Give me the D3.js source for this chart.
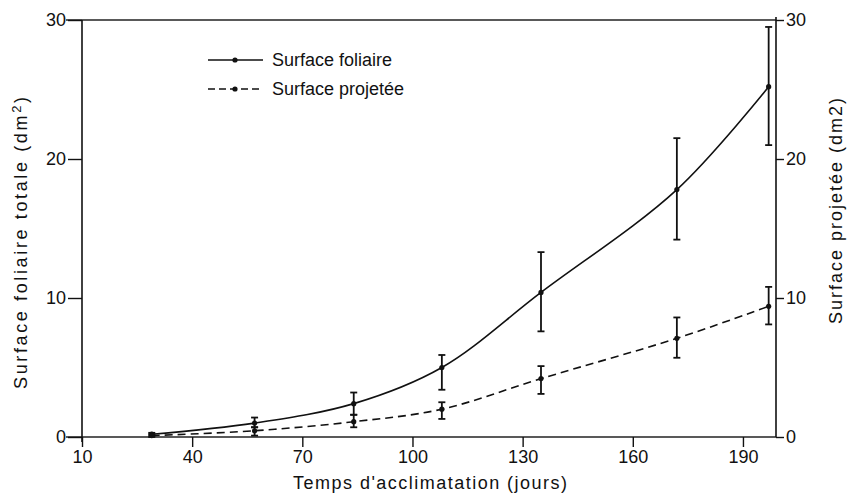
<!DOCTYPE html>
<html>
<head>
<meta charset="utf-8">
<script src="https://cdn.jsdelivr.net/npm/d3@7"></script>
<style>
  body { margin: 0; background: #fff; }
  svg { display: block; font-family: "Liberation Sans", Arial, sans-serif; }
  .axis text { font-size: 18px; fill: #111; }
  .axis line { stroke: #111; stroke-width: 1.4; }
</style>
</head>
<body>
<svg width="847" height="496"></svg>
<script>
// jours d'acclimatation
const days = [29, 57, 84, 108, 135, 172, 197];

// surface foliaire totale (dm2), moyenne et barre d'erreur
const foliaire   = [0.2, 1.0, 2.4, 5.0, 10.4, 17.8, 25.2];
const foliaireLo = [0.1, 0.7, 1.6, 3.4, 7.6, 14.2, 21.0];
const foliaireHi = [0.3, 1.4, 3.2, 5.9, 13.3, 21.5, 29.5];

// surface projetee (dm2)
const projetee   = [0.1, 0.45, 1.1, 2.0, 4.2, 7.1, 9.4];
const projeteeLo = [0.0, 0.1, 0.7, 1.3, 3.1, 5.7, 8.1];
const projeteeHi = [0.2, 0.7, 1.6, 2.5, 5.1, 8.6, 10.8];

const xTicks = [10, 40, 70, 100, 130, 160, 190];
const yTicks = [0, 10, 20, 30];

const svg = d3.select('svg');

const x = d3.scaleLinear().domain([10, 199]).range([82, 776]);
const y = d3.scaleLinear().domain([0, 30]).range([437, 20]);

// cadre : ligne du haut et ligne de base
svg.append('line')
  .attr('x1', 66).attr('x2', x(199))
  .attr('y1', y(30)).attr('y2', y(30))
  .attr('stroke', '#222').attr('stroke-width', 1.3);
svg.append('line')
  .attr('x1', 66).attr('x2', x(199))
  .attr('y1', y(0)).attr('y2', y(0))
  .attr('stroke', '#222').attr('stroke-width', 1.3);

// axes verticaux
svg.append('line')
  .attr('x1', x(10)).attr('x2', x(10))
  .attr('y1', y(30)).attr('y2', y(0) + 5)
  .attr('stroke', '#111').attr('stroke-width', 1.6);
svg.append('line')
  .attr('x1', x(199)).attr('x2', x(199))
  .attr('y1', y(30) - 3).attr('y2', y(0))
  .attr('stroke', '#111').attr('stroke-width', 1.6);

const left = svg.append('g')
  .attr('class', 'axis')
  .attr('transform', `translate(${x(10)},0)`)
  .call(d3.axisLeft(y).tickValues(yTicks).tickSize(14).tickPadding(2).tickSizeOuter(0));
left.select('.domain').remove();

const right = svg.append('g')
  .attr('class', 'axis')
  .attr('transform', `translate(${x(199)},0)`)
  .call(d3.axisRight(y).tickValues(yTicks).tickSize(8).tickPadding(2).tickSizeOuter(0));
right.select('.domain').remove();

const bottom = svg.append('g')
  .attr('class', 'axis')
  .attr('transform', `translate(0,${y(0)})`)
  .call(d3.axisBottom(x).tickValues(xTicks).tickSize(10).tickPadding(3).tickSizeOuter(0));
bottom.select('.domain').remove();

// titres des axes
svg.append('text')
  .attr('transform', `translate(27,${243}) rotate(-90)`)
  .attr('text-anchor', 'middle')
  .attr('font-size', 18)
  .attr('fill', '#111')
  .attr('textLength', 292).attr('lengthAdjust', 'spacing')
  .html('Surface foliaire totale (dm<tspan dy="-6" font-size="13">2</tspan><tspan dy="6">)</tspan>');

svg.append('text')
  .attr('transform', `translate(842,${211}) rotate(-90)`)
  .attr('text-anchor', 'middle')
  .attr('font-size', 18)
  .attr('fill', '#111')
  .attr('textLength', 226).attr('lengthAdjust', 'spacing')
  .text('Surface projetée (dm2)');

svg.append('text')
  .attr('x', 430).attr('y', 489)
  .attr('text-anchor', 'middle')
  .attr('font-size', 18)
  .attr('fill', '#111')
  .attr('textLength', 274).attr('lengthAdjust', 'spacing')
  .text("Temps d'acclimatation (jours)");

// courbes
const drawSeries = (vals, lo, hi, dash) => {
  const pts = days.map((d, i) => [d, vals[i]]);
  const line = d3.line()
    .x(d => x(d[0]))
    .y(d => y(d[1]))
    .curve(d3.curveCatmullRom.alpha(0.5));

  svg.append('path')
    .attr('d', line(pts))
    .attr('fill', 'none')
    .attr('stroke', '#111')
    .attr('stroke-width', 1.6)
    .attr('stroke-dasharray', dash);

  const bars = svg.append('g').attr('stroke', '#111').attr('stroke-width', 1.8);
  days.forEach((d, i) => {
    bars.append('line')
      .attr('x1', x(d)).attr('x2', x(d))
      .attr('y1', y(lo[i])).attr('y2', y(hi[i]));
    [lo[i], hi[i]].forEach(v => {
      bars.append('line')
        .attr('x1', x(d) - 3.5).attr('x2', x(d) + 3.5)
        .attr('y1', y(v)).attr('y2', y(v));
    });
  });

  svg.append('g').selectAll('circle')
    .data(pts)
    .join('circle')
    .attr('cx', d => x(d[0]))
    .attr('cy', d => y(d[1]))
    .attr('r', 2.6)
    .attr('fill', '#111');
};

drawSeries(foliaire, foliaireLo, foliaireHi, null);
drawSeries(projetee, projeteeLo, projeteeHi, '8,5');

// legende
const legend = [
  { label: 'Surface foliaire', dash: null, yy: 60 },
  { label: 'Surface projetée', dash: '7,4', yy: 89 }
];
legend.forEach(l => {
  svg.append('line')
    .attr('x1', 208).attr('x2', 263)
    .attr('y1', l.yy).attr('y2', l.yy)
    .attr('stroke', '#111').attr('stroke-width', 1.6)
    .attr('stroke-dasharray', l.dash);
  svg.append('circle')
    .attr('cx', 235).attr('cy', l.yy).attr('r', 2.6).attr('fill', '#111');
  svg.append('text')
    .attr('x', 272).attr('y', l.yy + 6)
    .attr('font-size', 18)
    .attr('fill', '#111')
    .text(l.label);
});
</script>
</body>
</html>
